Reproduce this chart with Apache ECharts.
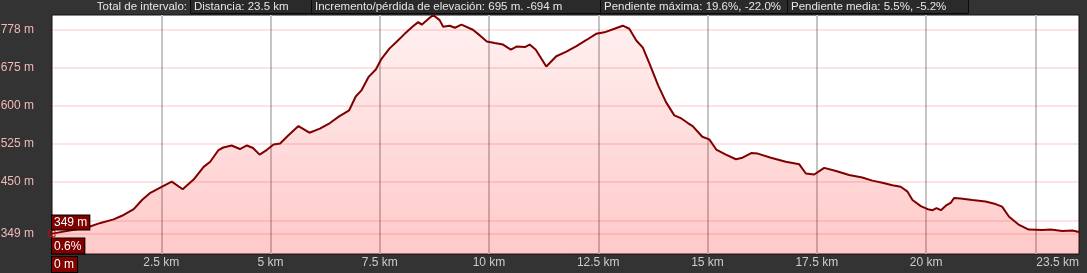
<!DOCTYPE html>
<html>
<head>
<meta charset="utf-8">
<script src="https://cdn.jsdelivr.net/npm/echarts@6/dist/echarts.min.js"></script>
<style>
html,body{margin:0;padding:0;background:#333333;}
#chart{width:1087px;height:273px;}
</style>
</head>
<body>
<div id="chart"></div>
<script>
// distance along track (km)
const dist = [0, 0.80, 1.11, 1.41, 1.60, 1.87, 2.06, 2.25, 2.52, 2.74, 2.99, 3.24, 3.47, 3.62, 3.81, 3.92, 4.11, 4.30, 4.46, 4.60,
  4.75, 4.91, 5.07, 5.22, 5.41, 5.64, 5.89, 6.13, 6.36, 6.57, 6.80, 6.95, 7.08, 7.24, 7.41, 7.54, 7.72, 7.88, 8.07, 8.26,
  8.38, 8.46, 8.61, 8.72, 8.87, 8.95, 9.10, 9.22, 9.37, 9.63, 9.79, 9.95, 10.13, 10.32, 10.50, 10.63, 10.82, 10.93, 11.07, 11.20,
  11.31, 11.54, 11.77, 12.00, 12.23, 12.45, 12.64, 12.87, 13.06, 13.21, 13.37, 13.52, 13.67, 13.87, 14.05, 14.24, 14.40, 14.55, 14.66, 14.88,
  15.04, 15.20, 15.42, 15.65, 15.80, 16.00, 16.15, 16.45, 16.79, 17.10, 17.25, 17.44, 17.67, 17.94, 18.24, 18.54, 18.77, 19.00, 19.23, 19.42,
  19.57, 19.69, 19.88, 20.04, 20.15, 20.24, 20.34, 20.47, 20.57, 20.64, 20.79, 21.06, 21.36, 21.59, 21.74, 21.90, 22.13, 22.35, 22.66, 22.85,
  23.12, 23.35, 23.5];
// elevation (m)
const elev = [349, 361, 370, 377, 384, 397, 415, 429, 441, 451, 436, 455, 480, 490, 513, 518, 522, 515, 522, 517,
  504, 513, 524, 526, 542, 560, 547, 555, 566, 579, 591, 618, 630, 656, 671, 692, 712, 725, 741, 756,
  764, 759, 770, 778, 768, 755, 757, 753, 759, 749, 738, 726, 723, 720, 710, 716, 715, 720, 710, 692,
  677, 697, 706, 717, 729, 741, 744, 751, 757, 751, 728, 714, 683, 640, 607, 581, 575, 566, 560, 539,
  534, 514, 504, 495, 498, 507, 506, 498, 490, 485, 467, 465, 478, 472, 464, 459, 453, 449, 444, 441,
  432, 415, 403, 397, 395, 399, 395, 405, 410, 419, 418, 415, 412, 407, 402, 382, 366, 357, 356, 357,
  354, 355, 352];

// tick labels
const xTickValues = [0, 2.5, 5, 7.5, 10, 12.5, 15, 17.5, 20, 22.5, 23.5];
const xTickLabels = ['0 m', '2.5 km', '5 km', '7.5 km', '10 km', '12.5 km', '15 km', '17.5 km', '20 km', '', '23.5 km'];
const yGridValues = [349, 375, 450, 525, 600, 675, 750];
const yGridLabels = ['349 m', '', '450 m', '525 m', '600 m', '675 m', '778 m'];

// header texts
const headerLabel = 'Total de intervalo:';
const headerBoxes = ['Distancia: 23.5 km', 'Incremento/pérdida de elevación: 695 m. -694 m',
  'Pendiente máxima: 19.6%, -22.0%', 'Pendiente media: 5.5%, -5.2%'];
const startLabels = ['349 m', '0.6%'];

const FONT = '"Liberation Sans", Arial, sans-serif';

const chart = echarts.init(document.getElementById('chart'));
const points = dist.map((d, i) => [d, elev[i]]);

const option = {
  animation: false,
  backgroundColor: '#333333',
  grid: {left: 52, right: 8, top: 15, bottom: 19, show: true, backgroundColor: '#ffffff', borderColor: '#111111', borderWidth: 1, containLabel: false},
  xAxis: {
    type: 'value', min: 0, max: 23.5, interval: 2.5,
    axisLine: {show: false}, axisTick: {show: false},
    splitLine: {show: true, showMinLine: false, showMaxLine: false, lineStyle: {color: '#c4c4c4', width: 2}},
    axisLabel: {
      show: true, color: '#cccccc', fontSize: 12, fontFamily: FONT, margin: 3,
      showMinLabel: true, showMaxLabel: true, alignMinLabel: 'left', alignMaxLabel: 'right',
      formatter: function (v) {
        const i = xTickValues.findIndex(t => Math.abs(t - v) < 1e-6);
        if (i < 0) return '';
        if (i === 0) return '{z|' + xTickLabels[0] + '}';
        return xTickLabels[i];
      },
      rich: {z: {color: '#ffffff', fontSize: 12, fontFamily: FONT, backgroundColor: '#800000', borderColor: '#000000', borderWidth: 1, padding: [2, 3, 1, 2]}}
    }
  },
  yAxis: {
    type: 'value', min: 309, max: 778,
    axisLine: {show: false}, axisTick: {show: false}, axisLabel: {show: false}, splitLine: {show: false}
  },
  series: [{
    type: 'line',
    data: points,
    showSymbol: false,
    lineStyle: {color: '#800000', width: 2},
    areaStyle: {
      origin: 'start',
      color: new echarts.graphic.LinearGradient(0, 0, 0, 1, [
        {offset: 0, color: 'rgba(255,0,0,0.08)'},
        {offset: 1, color: 'rgba(255,0,0,0.30)'}
      ])
    },
    markLine: {
      silent: true, symbol: ['none', 'none'], animation: false,
      lineStyle: {color: 'rgba(240,0,0,0.11)', width: 2, type: 'solid'},
      label: {show: true, position: 'start', distance: 18, color: '#f2b8b8', fontSize: 12, fontFamily: FONT, formatter: p => p.name},
      data: yGridValues.map((v, i) => ({yAxis: v, name: yGridLabels[i]}))
    },
    markPoint: {
      silent: true, animation: false,
      symbol: 'rect', symbolSize: 6,
      itemStyle: {color: 'rgba(0,0,0,0)', borderColor: '#e00000', borderWidth: 1},
      label: {show: false},
      data: [{coord: [dist[0], elev[0]]}]
    }
  }]
};
chart.setOption(option);

const p0 = chart.convertToPixel({gridIndex: 0}, [dist[0], elev[0]]);
const boxEdges = [[190, 311], [311, 600], [600, 787], [787, 968]];
const HFONT = '11.5px ' + FONT;
const graphics = [];
graphics.push({type: 'text', x: 187, y: 7, style: {text: headerLabel, fill: '#e6e6e6', font: HFONT, align: 'right', verticalAlign: 'middle'}});
headerBoxes.forEach((t, i) => {
  const [a, b] = boxEdges[i];
  graphics.push({type: 'rect', shape: {x: a + 0.5, y: -1.5, width: b - a, height: 15}, style: {fill: '#2a2a2a', stroke: '#0a0a0a', lineWidth: 1}});
  graphics.push({type: 'text', x: a + 4, y: 7, style: {text: t, fill: '#e6e6e6', font: HFONT, align: 'left', verticalAlign: 'middle'}});
});
graphics.push({type: 'text', x: p0[0], y: p0[1] - 18, z: 10, style: {text: startLabels[0], fill: '#ffffff', font: '12px ' + FONT, backgroundColor: '#800000', borderColor: '#000000', borderWidth: 1, padding: [1, 2, 1, 2]}});
graphics.push({type: 'text', x: p0[0], y: p0[1] + 5, z: 10, style: {text: startLabels[1], fill: '#ffffff', font: '12px ' + FONT, backgroundColor: '#800000', borderColor: '#000000', borderWidth: 1, padding: [2, 3, 1, 2]}});
chart.setOption({graphic: graphics});
</script>
</body>
</html>
